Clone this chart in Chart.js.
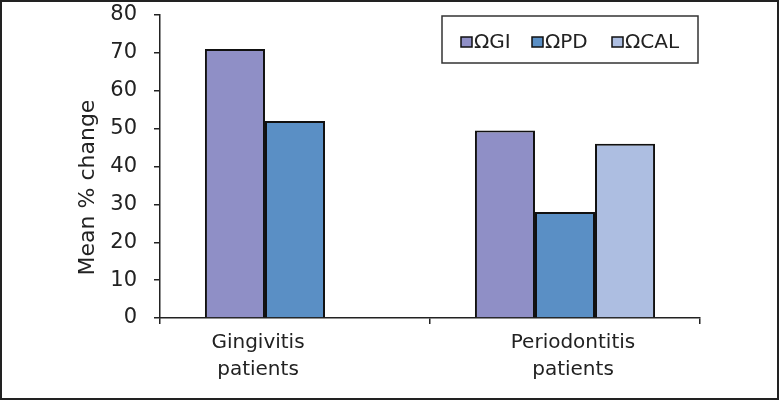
<!DOCTYPE html>
<html>
<head>
<meta charset="utf-8">
<script src="https://cdn.jsdelivr.net/npm/chart.js@4/dist/chart.umd.min.js"></script>
<style>
html,body{margin:0;padding:0;background:#fff;}
#wrap{width:779px;height:400px;position:relative;}
</style>
</head>
<body>
<div id="wrap"><canvas id="c" width="779" height="400"></canvas></div>
<script>
const categories = [["Gingivitis", "patients"], ["Periodontitis", "patients"]];
const seriesNames = ["\u03A9GI", "\u03A9PD", "\u03A9CAL"];
const giValues = [71, 49.5];
const pdValues = [52, 28];
const calValues = [null, 46];
const yTicks = [0, 10, 20, 30, 40, 50, 60, 70, 80];
const yTitle = "Mean % change";

const colors = ["#8f8fc6", "#5a8fc5", "#adbee1"];
const FONT = "'DejaVu Sans', 'Liberation Sans', Arial, sans-serif";
const TXT = "#222";
const labelShift = [-37, 8];

const frameAndLegend = {
  id: "frameAndLegend",
  beforeDraw(chart) {
    const ctx = chart.ctx;
    ctx.save();
    ctx.fillStyle = "#fff";
    ctx.fillRect(0, 0, chart.width, chart.height);
    ctx.restore();
  },
  afterDraw(chart) {
    const ctx = chart.ctx;
    ctx.save();
    ctx.strokeStyle = "#222";
    ctx.lineWidth = 2;
    ctx.strokeRect(1, 1, chart.width - 2, chart.height - 2);

    // category labels
    const xs = chart.scales.x;
    ctx.fillStyle = TXT;
    ctx.font = "20px " + FONT;
    ctx.textAlign = "center";
    ctx.textBaseline = "alphabetic";
    chart.data.labels.forEach((lab, i) => {
      const px = xs.getPixelForValue(i) + labelShift[i];
      lab.forEach((line, j) => ctx.fillText(line, px, 348 + j * 27));
    });

    // y title
    const ys = chart.scales.y;
    ctx.font = "22px " + FONT;
    ctx.textBaseline = "middle";
    ctx.translate(88, (ys.getPixelForValue(0) + ys.getPixelForValue(80)) / 2 + 21);
    ctx.rotate(-Math.PI / 2);
    ctx.fillText(yTitle, 0, 0);
    ctx.restore();

    // legend
    ctx.save();
    const lx = 442, ly = 16, lw = 256, lh = 47;
    ctx.strokeStyle = "#333";
    ctx.lineWidth = 1.5;
    ctx.strokeRect(lx, ly, lw, lh);
    ctx.font = "20px " + FONT;
    ctx.textBaseline = "middle";
    ctx.textAlign = "left";
    const cy = 42;
    const markerX = [461, 532, 612];
    chart.data.datasets.forEach((ds, i) => {
      const mx = markerX[i];
      ctx.fillStyle = ds.backgroundColor;
      ctx.fillRect(mx, cy - 5, 11, 10);
      ctx.strokeStyle = "#111";
      ctx.lineWidth = 1.5;
      ctx.strokeRect(mx, cy - 5, 11, 10);
      ctx.fillStyle = TXT;
      ctx.fillText(ds.label, mx + 13, cy + 1);
    });
    ctx.restore();
  }
};

new Chart(document.getElementById("c"), {
  type: "bar",
  data: {
    labels: categories,
    datasets: [
      { label: seriesNames[0], data: giValues, backgroundColor: colors[0] },
      { label: seriesNames[1], data: pdValues, backgroundColor: colors[1] },
      { label: seriesNames[2], data: calValues, backgroundColor: colors[2] }
    ].map(d => Object.assign(d, {
      borderColor: "#111",
      borderWidth: 2,
      categoryPercentage: 0.667,
      barPercentage: 1.0
    }))
  },
  options: {
    responsive: false,
    animation: false,
    devicePixelRatio: 1,
    layout: { padding: { left: 0, top: 15, right: 79, bottom: 0 } },
    plugins: {
      legend: { display: false },
      tooltip: { enabled: false },
      title: { display: false }
    },
    scales: {
      x: {
        grid: { display: true, drawOnChartArea: false, drawTicks: true, tickLength: 6, color: "#222", lineWidth: 1.5 },
        border: { display: true, color: "#222", width: 1.5 },
        ticks: { display: false },
        afterFit(scale) { scale.height = 82; scale.paddingLeft = 0; scale.paddingRight = 0; }
      },
      y: {
        min: 0,
        max: 80,
        afterBuildTicks(scale) { scale.ticks = yTicks.map(v => ({ value: v })); },
        grid: { display: true, drawOnChartArea: false, drawTicks: true, tickLength: 6, color: "#222", lineWidth: 1.5 },
        border: { display: true, color: "#222", width: 1.5 },
        ticks: { color: TXT, font: { family: FONT, size: 21 }, padding: 17 },
        afterFit(scale) { scale.width = 160; scale.paddingTop = 0; scale.paddingBottom = 0; }
      }
    }
  },
  plugins: [frameAndLegend]
});
</script>
</body>
</html>
